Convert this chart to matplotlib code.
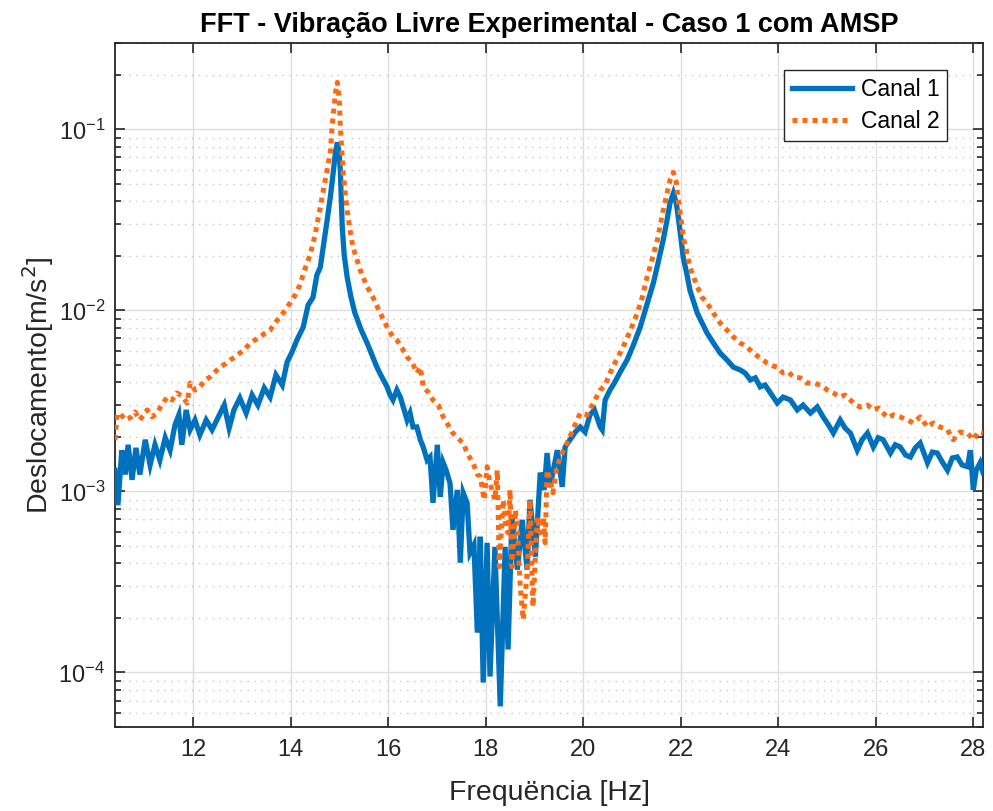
import matplotlib
matplotlib.use("Agg")
import matplotlib.pyplot as plt
from matplotlib.ticker import LogLocator, NullFormatter, FixedLocator

plt.rcParams['font.family'] = ['Liberation Sans', 'DejaVu Sans']

title = "FFT - Vibração Livre Experimental - Caso 1 com AMSP"
xlabel = "Frequëncia [Hz]"
ylabel = "Deslocamento[m/s$^2$]"
labels = ["Canal 1", "Canal 2"]
xticks = [12, 14, 16, 18, 20, 22, 24, 26, 28]

f1 = [10.40, 10.46, 10.54, 10.61, 10.67, 10.75, 10.83, 10.91, 11.02, 11.12, 11.22, 11.32, 11.43, 11.53,
      11.63, 11.71, 11.77, 11.86, 11.94, 12.04, 12.14, 12.27, 12.39, 12.51, 12.64, 12.74, 12.84, 12.96,
      13.09, 13.21, 13.33, 13.46, 13.58, 13.70, 13.83, 13.93, 14.03, 14.13, 14.26, 14.36, 14.46, 14.54,
      14.61, 14.69, 14.75, 14.82, 14.88, 14.92, 14.96, 15.00, 15.02, 15.06, 15.10, 15.16, 15.24, 15.32,
      15.45, 15.57, 15.67, 15.77, 15.88, 15.98, 16.04, 16.10, 16.18, 16.25, 16.33, 16.39, 16.45, 16.51,
      16.59, 16.66, 16.72, 16.80, 16.86, 16.92, 17.01, 17.07, 17.13, 17.19, 17.27, 17.33, 17.42, 17.48,
      17.54, 17.62, 17.68, 17.76, 17.83, 17.89, 17.95, 18.03, 18.09, 18.19, 18.30, 18.40, 18.46, 18.54,
      18.65, 18.75, 18.85, 18.91, 19.02, 19.12, 19.20, 19.26, 19.32, 19.47, 19.57, 19.63, 19.73, 19.84,
      19.94, 20.04, 20.14, 20.23, 20.35, 20.39, 20.45, 20.55, 20.64, 20.76, 20.90, 21.03, 21.17, 21.29,
      21.44, 21.54, 21.64, 21.72, 21.78, 21.85, 21.91, 21.95, 22.01, 22.05, 22.13, 22.19, 22.34, 22.44,
      22.54, 22.67, 22.81, 22.95, 23.08, 23.22, 23.32, 23.43, 23.53, 23.63, 23.73, 23.84, 23.98, 24.10,
      24.25, 24.39, 24.51, 24.66, 24.80, 24.92, 25.03, 25.13, 25.27, 25.37, 25.48, 25.62, 25.72, 25.83,
      25.95, 26.05, 26.15, 26.30, 26.40, 26.50, 26.61, 26.71, 26.81, 26.91, 27.06, 27.16, 27.26, 27.36,
      27.47, 27.57, 27.67, 27.77, 27.88, 27.94, 28.00, 28.06, 28.14, 28.20]
a1 = [1.31e-3, 8.4e-4, 1.69e-3, 1.24e-3, 1.81e-3, 1.16e-3, 1.74e-3, 1.24e-3, 1.93e-3, 1.40e-3, 1.81e-3,
      1.49e-3, 1.98e-3, 1.69e-3, 2.33e-3, 2.65e-3, 1.81e-3, 2.82e-3, 2.19e-3, 2.48e-3, 2.05e-3, 2.48e-3,
      2.19e-3, 2.55e-3, 3.00e-3, 2.24e-3, 2.82e-3, 3.28e-3, 2.71e-3, 3.41e-3, 3.00e-3, 3.73e-3, 3.32e-3,
      4.40e-3, 3.87e-3, 5.19e-3, 5.89e-3, 6.86e-3, 8.09e-3, 1.07e-2, 1.18e-2, 1.57e-2, 1.73e-2, 2.44e-2,
      3.15e-2, 4.32e-2, 5.94e-2, 7.46e-2, 8.48e-2, 7.19e-2, 5.94e-2, 2.88e-2, 2.02e-2, 1.53e-2, 1.18e-2,
      9.66e-3, 7.78e-3, 6.61e-3, 5.67e-3, 4.86e-3, 4.24e-3, 3.78e-3, 3.41e-3, 3.20e-3, 3.63e-3, 3.32e-3,
      2.82e-3, 2.48e-3, 2.71e-3, 2.27e-3, 2.27e-3, 1.93e-3, 1.76e-3, 1.49e-3, 1.55e-3, 8.65e-4, 1.81e-3,
      9.33e-4, 1.44e-3, 1.31e-3, 1.11e-3, 6.14e-4, 1.02e-3, 4.04e-4, 9.82e-4, 8.65e-4, 4.58e-4, 5.07e-4,
      1.66e-4, 5.62e-4, 8.8e-5, 5.20e-4, 9.5e-5, 4.94e-4, 6.5e-5, 4.94e-4, 1.34e-4, 7.24e-4, 3.70e-4,
      6.97e-4, 3.70e-4, 8.99e-4, 4.36e-4, 1.27e-3, 1.02e-3, 1.63e-3, 1.06e-3, 1.69e-3, 1.06e-3, 1.76e-3,
      1.93e-3, 2.13e-3, 2.27e-3, 2.13e-3, 2.65e-3, 2.82e-3, 2.27e-3, 2.19e-3, 3.20e-3, 3.63e-3, 3.97e-3,
      4.57e-3, 5.32e-3, 6.44e-3, 8.09e-3, 1.04e-2, 1.42e-2, 1.85e-2, 2.44e-2, 3.15e-2, 3.91e-2, 4.44e-2,
      3.91e-2, 3.27e-2, 2.44e-2, 1.97e-2, 1.57e-2, 1.29e-2, 9.66e-3, 8.51e-3, 7.50e-3, 6.61e-3, 5.81e-3,
      5.32e-3, 4.86e-3, 4.69e-3, 4.51e-3, 4.13e-3, 4.24e-3, 3.78e-3, 3.87e-3, 3.50e-3, 3.08e-3, 3.32e-3,
      3.20e-3, 2.82e-3, 3.00e-3, 2.71e-3, 2.93e-3, 2.58e-3, 2.33e-3, 2.10e-3, 2.48e-3, 2.24e-3, 2.10e-3,
      1.69e-3, 1.93e-3, 2.10e-3, 1.76e-3, 1.98e-3, 1.93e-3, 1.63e-3, 1.81e-3, 1.76e-3, 1.59e-3, 1.55e-3,
      1.74e-3, 1.85e-3, 1.44e-3, 1.65e-3, 1.63e-3, 1.46e-3, 1.31e-3, 1.53e-3, 1.55e-3, 1.40e-3, 1.37e-3,
      1.69e-3, 1.02e-3, 1.31e-3, 1.44e-3, 1.27e-3]

f2 = [10.40, 10.44, 10.50, 10.61, 10.71, 10.81, 10.91, 11.06, 11.16, 11.26, 11.36, 11.47, 11.57, 11.67,
      11.77, 11.88, 11.94, 12.04, 12.14, 12.25, 12.35, 12.45, 12.55, 12.66, 12.76, 12.86, 12.96, 13.07,
      13.17, 13.27, 13.37, 13.48, 13.58, 13.68, 13.78, 13.89, 13.99, 14.09, 14.19, 14.30, 14.40, 14.50,
      14.61, 14.69, 14.75, 14.82, 14.85, 14.92, 14.96, 15.00, 15.02, 15.08, 15.16, 15.22, 15.28, 15.43,
      15.57, 15.69, 15.84, 15.98, 16.10, 16.18, 16.31, 16.39, 16.49, 16.59, 16.66, 16.72, 16.82, 16.92,
      17.03, 17.13, 17.23, 17.31, 17.42, 17.54, 17.64, 17.74, 17.83, 17.89, 17.97, 18.03, 18.09, 18.19,
      18.24, 18.28, 18.36, 18.42, 18.46, 18.50, 18.54, 18.61, 18.65, 18.71, 18.77, 18.85, 18.91, 18.97,
      19.06, 19.12, 19.18, 19.22, 19.26, 19.32, 19.38, 19.45, 19.53, 19.67, 19.79, 19.94, 20.08, 20.21,
      20.35, 20.45, 20.55, 20.68, 20.82, 20.97, 21.11, 21.21, 21.31, 21.42, 21.52, 21.58, 21.64, 21.72,
      21.78, 21.85, 21.91, 21.95, 22.01, 22.05, 22.13, 22.19, 22.34, 22.44, 22.54, 22.67, 22.81, 22.95,
      23.08, 23.22, 23.36, 23.49, 23.63, 23.77, 23.90, 23.98, 24.10, 24.21, 24.31, 24.45, 24.59, 24.72,
      24.86, 25.01, 25.13, 25.27, 25.37, 25.48, 25.58, 25.68, 25.83, 25.95, 26.05, 26.15, 26.26, 26.36,
      26.50, 26.65, 26.77, 26.91, 27.06, 27.18, 27.32, 27.47, 27.59, 27.73, 27.88, 28.00, 28.10, 28.20]
a2 = [1.93e-3, 2.65e-3, 2.71e-3, 2.48e-3, 2.55e-3, 2.75e-3, 2.48e-3, 2.82e-3, 2.58e-3, 2.71e-3, 3.00e-3,
      3.32e-3, 3.20e-3, 3.50e-3, 3.37e-3, 3.08e-3, 3.97e-3, 3.63e-3, 3.78e-3, 4.13e-3, 4.29e-3, 4.57e-3,
      4.86e-3, 5.06e-3, 5.32e-3, 5.52e-3, 5.81e-3, 6.12e-3, 6.61e-3, 6.86e-3, 7.13e-3, 7.50e-3, 7.78e-3,
      8.51e-3, 9.18e-3, 1.00e-2, 1.10e-2, 1.21e-2, 1.38e-2, 1.71e-2, 2.02e-2, 2.60e-2, 3.71e-2, 4.91e-2,
      5.94e-2, 7.66e-2, 1.03e-1, 1.58e-1, 1.82e-1, 1.45e-1, 1.03e-1, 5.72e-2, 3.57e-2, 2.77e-2, 2.23e-2,
      1.67e-2, 1.35e-2, 1.18e-2, 9.66e-3, 8.09e-3, 7.13e-3, 6.86e-3, 6.04e-3, 5.52e-3, 5.19e-3, 4.51e-3,
      4.86e-3, 3.78e-3, 3.54e-3, 3.20e-3, 3.00e-3, 2.58e-3, 2.33e-3, 2.13e-3, 1.98e-3, 1.85e-3, 1.59e-3,
      1.44e-3, 1.24e-3, 1.21e-3, 8.99e-4, 1.37e-3, 1.11e-3, 8.99e-4, 1.31e-3, 3.84e-4, 8.99e-4, 6.14e-4,
      5.91e-4, 1.02e-3, 3.84e-4, 7.91e-4, 6.38e-4, 2.98e-4, 1.96e-4, 3.56e-4, 8.99e-4, 2.31e-4, 7.24e-4,
      5.91e-4, 7.24e-4, 5.20e-4, 1.31e-3, 1.16e-3, 9.82e-4, 1.31e-3, 1.55e-3, 1.85e-3, 2.19e-3, 2.71e-3,
      2.65e-3, 3.08e-3, 3.63e-3, 3.87e-3, 4.51e-3, 5.32e-3, 6.28e-3, 7.78e-3, 9.66e-3, 1.18e-2, 1.53e-2,
      1.94e-2, 2.44e-2, 2.95e-2, 3.57e-2, 4.44e-2, 5.23e-2, 5.79e-2, 5.10e-2, 4.06e-2, 3.15e-2, 2.54e-2,
      2.07e-2, 1.73e-2, 1.35e-2, 1.18e-2, 1.10e-2, 9.66e-3, 8.51e-3, 7.78e-3, 7.13e-3, 6.61e-3, 6.28e-3,
      5.81e-3, 5.46e-3, 5.12e-3, 4.93e-3, 4.86e-3, 4.51e-3, 4.57e-3, 4.29e-3, 4.24e-3, 3.97e-3, 3.97e-3,
      3.87e-3, 3.63e-3, 3.50e-3, 3.32e-3, 3.41e-3, 3.20e-3, 3.00e-3, 2.93e-3, 3.00e-3, 2.82e-3, 2.89e-3,
      2.71e-3, 2.55e-3, 2.65e-3, 2.58e-3, 2.48e-3, 2.39e-3, 2.58e-3, 2.27e-3, 2.39e-3, 2.27e-3, 2.19e-3,
      1.93e-3, 2.13e-3, 2.10e-3, 1.93e-3, 2.13e-3, 2.10e-3]

fig = plt.figure(figsize=(9.93, 8.11), dpi=100)
ax = fig.add_axes([0.1158, 0.1036, 0.8742, 0.8434])

ax.plot(f1, a1, color='#0072BD', lw=3.8, solid_joinstyle='miter', label=labels[0], zorder=3)
ax.plot(f2, a2, color='#FF6A10', lw=3.6, linestyle=(0, (1, 1)), dash_capstyle='butt',
        label=labels[1], zorder=4)

ax.set_yscale('log')
ax.set_xlim(10.4, 28.2)
ax.set_ylim(5.0e-5, 0.3)
ax.xaxis.set_major_locator(FixedLocator(xticks))
ax.yaxis.set_major_locator(LogLocator(base=10, numticks=10))
ax.yaxis.set_minor_locator(LogLocator(base=10, subs=[2, 3, 4, 5, 6, 7, 8, 9], numticks=20))
ax.yaxis.set_minor_formatter(NullFormatter())

ax.grid(True, which='major', color='#dedede', lw=1.0, zorder=0)
ax.yaxis.grid(True, which='minor', color='#c8c8c8', lw=1.0, linestyle=(0, (1, 4)), zorder=0)
ax.set_axisbelow(True)

ax.tick_params(which='both', direction='in', top=True, right=True, colors='#262626',
               labelsize=17, width=1.2)
ax.tick_params(axis='x', which='major', pad=9)
ax.tick_params(axis='y', which='major', pad=7)
ax.tick_params(which='major', length=7)
ax.tick_params(which='minor', length=4)
for s in ax.spines.values():
    s.set_color('#262626')
    s.set_linewidth(1.3)

ax.set_title(title, fontsize=19.5, fontweight='bold', pad=8)
ax.set_xlabel(xlabel, fontsize=20.5, color='#262626', labelpad=13)
ax.set_ylabel(ylabel, fontsize=20.5, color='#262626', labelpad=2)

leg = ax.legend(loc='upper right', bbox_to_anchor=(0.959, 0.961), fontsize=16.5, frameon=True,
                fancybox=False, edgecolor='#262626', framealpha=1, handlelength=2.6,
                borderpad=0.35, labelspacing=0.4, handletextpad=0.4, borderaxespad=0)
leg.get_frame().set_linewidth(1.0)

fig.savefig('out.png', dpi=100)
